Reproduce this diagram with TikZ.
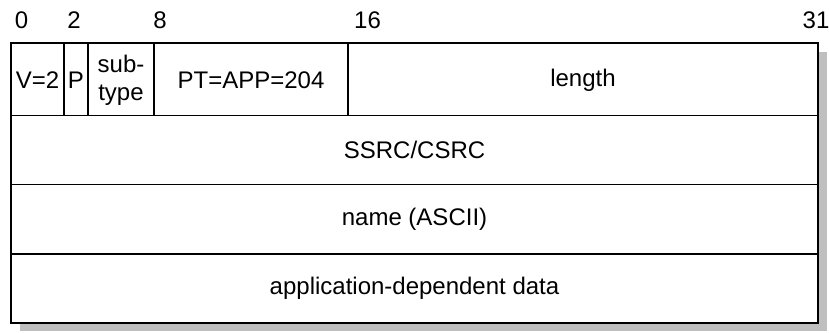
\documentclass[tikz,border=0pt]{standalone}
\usepackage{fontspec}
\setmainfont{Liberation Sans}
\begin{document}
\begin{tikzpicture}[x=1pt, y=-1pt, line width=1.6pt,
    lbl/.style={font=\fontsize{24}{28}\selectfont, inner sep=0pt, align=center}]
\useasboundingbox (0,0) rectangle (829,332);
% shadow and frame
\fill[black!25] (20,52) rectangle (827,331);
\draw[fill=white] (11,43) rectangle (818,323);
\foreach \y in {115.5,184.5,254} {
    \draw (11,\y) -- (818,\y);
}
\foreach \x in {64,88,154,348} {
    \draw (\x,43) -- (\x,115.5);
}
% bit numbers
\foreach \x/\b in {21.5/0,74/2,160/8,367.5/16,816/31} {
    \node[lbl] (bit\b) at (\x,20) {\b};
}
% first word
\node[lbl] (ver)     at (37.5,80)  {V=2};
\node[lbl] (pad)     at (76,80)    {P};
\node[lbl] (subtype) at (121,80)   {sub-\\type};
\node[lbl] (pt)      at (251,80)   {PT=APP=204};
\node[lbl] (len)     at (583,80)   {length};
% remaining words
\node[lbl] (ssrc)    at (414.5,150) {SSRC/CSRC};
\node[lbl] (name)    at (414.5,219) {name (ASCII)};
\node[lbl] (data)    at (414.5,288.5) {application-dependent data};
\end{tikzpicture}
\end{document}
